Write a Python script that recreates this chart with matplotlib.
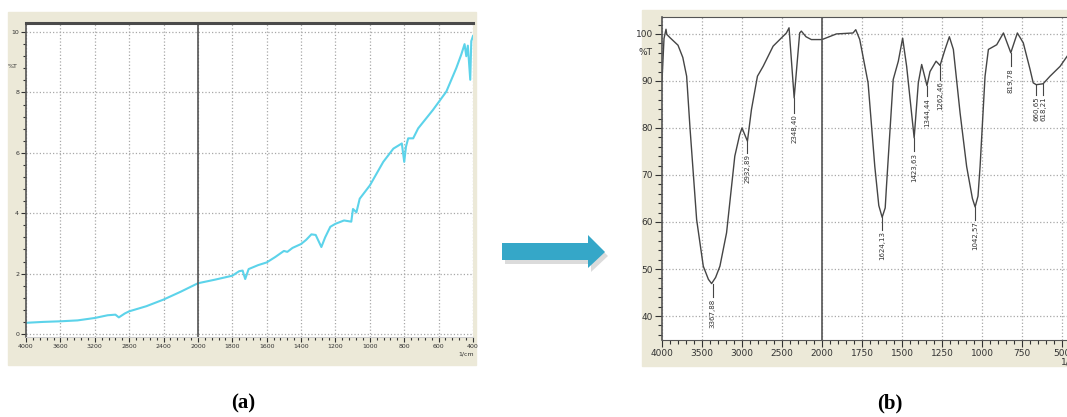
import numpy as np
import matplotlib.pyplot as plt
from matplotlib.patches import Rectangle, Polygon
from matplotlib.ticker import FixedLocator

# ---- data: panel (a), blank spectrum ----
wn_a = [4000, 3800, 3600, 3400, 3200, 3050, 2960, 2920, 2850, 2800, 2600, 2400,
        2200, 2000, 1900, 1800, 1760, 1740, 1725, 1705, 1650, 1600, 1550, 1500,
        1480, 1450, 1400, 1370, 1340, 1315, 1282, 1260, 1230, 1200, 1150, 1108,
        1098, 1078, 1059, 1000, 922, 863, 814, 800, 790, 777, 748, 719, 633,
        555, 497, 468, 449, 439, 430, 416, 410, 400]
t_a = [0.37, 0.40, 0.42, 0.45, 0.53, 0.62, 0.64, 0.55, 0.68, 0.75, 0.92, 1.14,
       1.40, 1.68, 1.80, 1.93, 2.08, 2.10, 1.82, 2.15, 2.28, 2.37, 2.55, 2.75,
       2.72, 2.85, 2.98, 3.12, 3.30, 3.28, 2.88, 3.20, 3.55, 3.65, 3.76, 3.72,
       4.14, 4.03, 4.48, 4.92, 5.70, 6.14, 6.31, 5.70, 6.20, 6.48, 6.48, 6.81,
       7.42, 8.03, 8.81, 9.26, 9.60, 9.20, 9.55, 8.42, 9.70, 9.87]
ticks_a = [4000, 3600, 3200, 2800, 2400, 2000, 1800, 1600, 1400, 1200, 1000, 800, 600, 400]
yticks_a = [0, 2, 4, 6, 8, 10]

# ---- data: panel (b), sample spectrum ----
wn_b = [4000, 3975, 3950, 3940, 3900, 3800, 3740, 3692, 3650, 3567, 3484, 3420,
        3380, 3330, 3276, 3193, 3090, 3030, 3000, 2932, 2882, 2807, 2736, 2611,
        2445, 2412, 2348, 2279, 2258, 2200, 2133, 2000, 1910, 1806, 1789, 1764,
        1712, 1670, 1645, 1624, 1605, 1597, 1555, 1523, 1496, 1471, 1424, 1398,
        1377, 1344, 1325, 1287, 1262, 1231, 1204, 1179, 1137, 1096, 1060, 1043,
        1025, 1012, 981, 960, 908, 866, 820, 779, 742, 700, 680, 661, 618, 575,
        512, 469, 430, 400]
t_b = [90.0, 99.0, 101.0, 99.9, 99.2, 97.6, 95.0, 91.0, 80.0, 60.5, 50.6, 47.8,
       46.9, 48.2, 50.6, 57.7, 74.0, 78.5, 80.0, 77.2, 83.9, 91.0, 93.1, 97.4,
       100.2, 101.3, 86.4, 100.2, 100.6, 99.4, 98.8, 98.8, 100.0, 100.2, 100.9, 98.8,
       89.6, 71.8, 63.5, 61.0, 63.0, 67.6, 90.3, 94.2, 99.1, 93.1, 77.9, 89.6,
       93.5, 89.0, 92.0, 94.2, 93.3, 96.7, 99.4, 96.7, 83.2, 71.8, 65.0, 63.2,
       65.5, 71.8, 91.0, 96.7, 97.7, 100.2, 96.0, 100.2, 98.1, 92.5, 89.6, 89.2,
       89.4, 91.0, 93.1, 95.2, 97.0, 98.0]
ticks_b = [4000, 3500, 3000, 2500, 2000, 1750, 1500, 1250, 1000, 750, 500]
yticks_b = [40, 50, 60, 70, 80, 90, 100]

peak_wn = [3367.88, 2932.89, 2348.40, 1624.13, 1423.63, 1344.44, 1262.46,
           1042.57, 819.78, 660.65, 618.21]
peak_t = [46.9, 77.2, 86.4, 61.0, 77.9, 89.0, 93.3, 63.2, 96.0, 89.2, 89.4]
label_top = [44.0, 74.7, 83.2, 58.4, 75.0, 86.7, 90.3, 60.5, 93.1, 87.0, 87.0]
peak_txt = ["3367,88", "2932,89", "2348,40", "1624,13", "1423,63", "1344,44",
            "1262,46", "1042,57", "819,78", "660,65", "618,21"]

W, H = 1067, 417
BG = '#ece9d8'


def box(x0, y0, x1, y1):
    # pixel box (top-left origin) -> figure fraction rect
    return [x0 / W, 1 - y1 / H, (x1 - x0) / W, (y1 - y0) / H]


def split_scale(left_step, right_step):
    # spectrometer x axis: scale changes at 2000 1/cm
    def fwd(w):
        w = np.asarray(w, dtype=float)
        return np.where(w >= 2000, (w - 2000) / left_step, (w - 2000) / right_step)

    def inv(u):
        u = np.asarray(u, dtype=float)
        return np.where(u >= 0, 2000 + u * left_step, 2000 + u * right_step)
    return fwd, inv


def style_axes(ax, left_step, right_step, xmin, xmax, majors, yticks, yminor, fs, tlen):
    ax.set_xscale('function', functions=split_scale(left_step, right_step))
    ax.set_xlim(xmin, xmax)
    ax.xaxis.set_major_locator(FixedLocator(majors))
    minors = list(np.arange(2000, xmin + 1, left_step / 5)) + list(np.arange(2000, 399, -right_step / 5))
    ax.xaxis.set_minor_locator(FixedLocator(minors))
    ax.set_xticklabels([str(t) for t in majors])
    ax.yaxis.set_major_locator(FixedLocator(yticks))
    ax.yaxis.set_minor_locator(FixedLocator(yminor))
    ax.tick_params(which='major', direction='out', length=tlen, width=0.8,
                   labelsize=fs, colors='#333333', pad=1.5)
    ax.tick_params(which='minor', direction='out', length=tlen * 0.6, width=0.8,
                   colors='#333333')
    ax.grid(True, which='major', linestyle=':', color='#a8a8a8', linewidth=0.9)
    ax.axvline(2000, color='#555555', linewidth=1.2)
    ax.set_facecolor('white')
    ax.spines['right'].set_visible(False)
    for s in ('left', 'bottom', 'top'):
        ax.spines[s].set_color('#555555')


fig = plt.figure(figsize=(W / 100, H / 100), dpi=100)
plt.rcParams['font.family'] = ['Liberation Sans Narrow', 'DejaVu Sans']

fig.patches.append(Rectangle((8 / W, 1 - 365 / H), 468 / W, 353 / H,
                             transform=fig.transFigure, color=BG, zorder=-5))
fig.patches.append(Rectangle((642 / W, 1 - 366 / H), 425 / W, 356 / H,
                             transform=fig.transFigure, color=BG, zorder=-5))

# panel (a)
ax1 = fig.add_axes(box(26, 23, 473, 337))
ax1.plot(wn_a, t_a, color='#5cd3ea', linewidth=1.5)
style_axes(ax1, 400, 200, 4000, 400, ticks_a, yticks_a,
           list(np.arange(0, 10.01, 0.4)), 4.5, 3.5)
ax1.set_ylim(-0.1, 10.3)
ax1.spines['top'].set_linewidth(2.2)
ax1.spines['top'].set_color('#4a4a4a')
ax1.spines['left'].set_linewidth(1.2)
ax1.spines['bottom'].set_color('#cccccc')
ax1.text(-0.03, 0.86, '%T', transform=ax1.transAxes, fontsize=4.5, color='#333333',
         ha='center', va='center')
ax1.text(0.985, -0.055, '1/cm', transform=ax1.transAxes, fontsize=4.5, color='#333333',
         ha='center', va='center')

# panel (b)
ax2 = fig.add_axes(box(662, 17, 1078, 340))
ax2.plot(wn_b, t_b, color='#454545', linewidth=1.0)
style_axes(ax2, 500, 250, 4000, 400, ticks_b, yticks_b,
           list(np.arange(36, 104, 2)), 6.5, 5)
ax2.set_ylim(34.9, 103.6)
ax2.spines['left'].set_linewidth(1.2)
ax2.text(-0.04, 0.89, '%T', transform=ax2.transAxes, fontsize=6.5, color='#333333',
         ha='center', va='center')
ax2.text(0.985, -0.068, '1/cm', transform=ax2.transAxes, fontsize=6.5, color='#333333',
         ha='center', va='center')
for w, t, top, txt in zip(peak_wn, peak_t, label_top, peak_txt):
    ax2.plot([w, w], [t, top], color='#454545', linewidth=0.8)
    ax2.text(w, top - 0.3, txt, rotation=90, ha='center', va='top',
             fontsize=5, color='#333333')

# arrow between the panels
def px(points, dx=0, dy=0):
    return [((x + dx) / W, 1 - (y + dy) / H) for x, y in points]


arrow_pts = [(502, 243), (588, 243), (588, 235), (605, 252), (588, 268),
             (588, 260), (502, 260)]
fig.patches.append(Polygon(px(arrow_pts, 3, 4), closed=True, transform=fig.transFigure,
                           color='#9a9a9a', alpha=0.35, linewidth=0))
fig.patches.append(Polygon(px(arrow_pts), closed=True, transform=fig.transFigure,
                           color='#35a7c8', linewidth=0))

fig.text(243 / W, 1 - 403 / H, '(a)', family='Liberation Serif', fontweight='bold',
         fontsize=15, ha='center', va='center')
fig.text(890 / W, 1 - 403 / H, '(b)', family='Liberation Serif', fontweight='bold',
         fontsize=15, ha='center', va='center')

fig.savefig('out.png', dpi=100)
